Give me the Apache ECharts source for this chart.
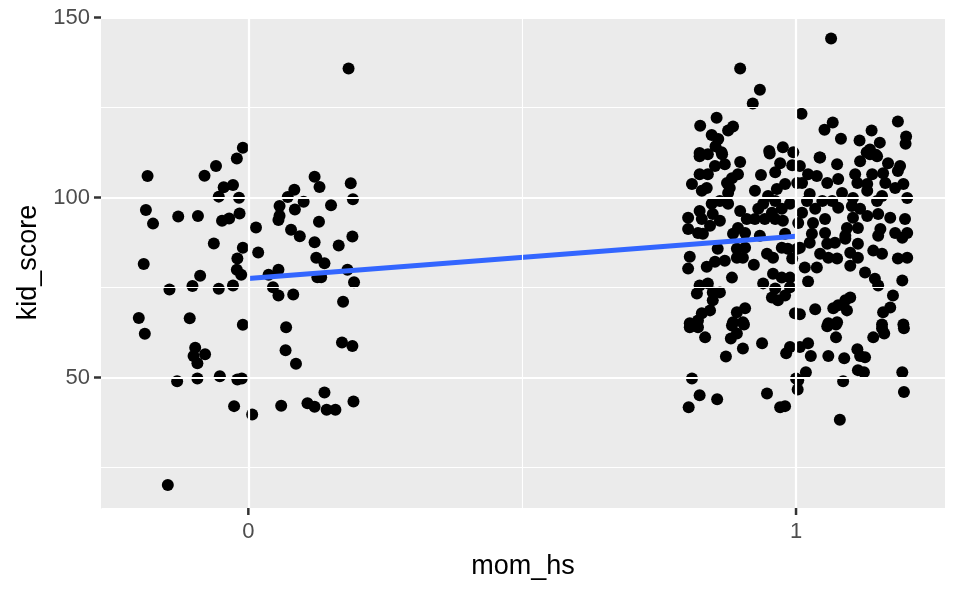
<!DOCTYPE html>
<html lang="en">
<head>
    <meta charset="UTF-8">
    <title>kid_score vs mom_hs</title>
    <script src="https://cdn.jsdelivr.net/npm/echarts@6/dist/echarts.min.js"></script>
    <style>
        html, body { margin: 0; padding: 0; background: #fff; }
        #chart { width: 960px; height: 593px; }
    </style>
</head>
<body>
    <div id="chart"></div>
    <script>
        // jittered points, mom_hs = 0  [jittered mom_hs, kid_score]
        var hs0 = [
            [0.183, 135.9], [-0.010, 113.9], [-0.021, 110.9], [-0.059, 108.8], [-0.080, 106.1],
            [-0.184, 106.0], [-0.045, 102.9], [-0.028, 103.5], [-0.054, 100.3], [-0.017, 100.0],
            [-0.187, 96.6], [-0.174, 92.8], [-0.128, 94.8], [-0.092, 94.9], [-0.048, 93.6],
            [-0.035, 94.2], [-0.016, 95.6], [-0.063, 87.3], [-0.010, 86.1], [-0.020, 83.1],
            [-0.191, 81.6], [-0.088, 78.3], [-0.021, 80.0], [-0.013, 78.6], [0.014, 91.7],
            [0.018, 84.8], [0.121, 105.8], [0.130, 103.0], [0.084, 102.2], [0.072, 100.2],
            [0.101, 98.9], [0.057, 97.7], [0.085, 96.7], [0.057, 95.0], [0.055, 93.8],
            [0.078, 91.1], [0.094, 89.3], [0.129, 93.3], [0.151, 97.9], [0.187, 104.0],
            [0.191, 99.6], [0.190, 89.2], [0.165, 86.7], [0.121, 87.6], [0.124, 83.3],
            [0.139, 81.8], [0.181, 80.0], [0.055, 80.0], [0.037, 78.6], [0.133, 77.9],
            [0.126, 77.9], [0.193, 76.5], [-0.144, 74.5], [-0.102, 75.5], [-0.054, 74.7],
            [-0.028, 75.6], [0.045, 75.1], [0.055, 72.8], [0.082, 73.1], [0.173, 71.1],
            [-0.200, 66.6], [-0.189, 62.2], [-0.107, 66.5], [-0.010, 64.7], [0.069, 64.0],
            [-0.097, 58.3], [-0.100, 56.0], [-0.079, 56.5], [-0.093, 54.0], [0.068, 57.6],
            [0.087, 53.9], [0.171, 59.8], [0.190, 58.8], [-0.130, 49.0], [-0.093, 49.8],
            [-0.052, 50.4], [-0.020, 49.5], [-0.012, 49.8], [0.139, 45.9], [0.192, 43.4],
            [-0.026, 42.1], [0.007, 39.8], [0.060, 42.2], [0.108, 42.9], [0.121, 41.9],
            [0.143, 41.1], [0.159, 41.1], [-0.147, 20.2]
        ];

        // jittered points, mom_hs = 1
        var hs1 = [
            [0.898, 135.9], [0.934, 130.0], [0.921, 126.2], [0.855, 122.2], [0.825, 120.0],
            [0.885, 119.8], [0.876, 118.7], [0.846, 117.4], [0.858, 116.3], [0.853, 114.3],
            [0.864, 112.6], [0.824, 112.4], [0.951, 113.0], [0.976, 114.0], [0.995, 112.6],
            [1.064, 144.2], [1.010, 123.3], [1.067, 120.9], [1.052, 118.9], [1.082, 116.4],
            [1.138, 118.7], [1.186, 121.2], [1.201, 117.0], [1.200, 115.0], [1.116, 115.9],
            [1.153, 115.3], [1.135, 113.4], [1.129, 112.6], [1.146, 111.9], [1.043, 111.2],
            [0.824, 111.5], [0.839, 112.1], [0.865, 112.1], [0.898, 109.9], [0.870, 109.3],
            [0.852, 108.8], [0.824, 106.5], [0.839, 106.5], [0.894, 106.5], [0.883, 105.4],
            [0.874, 104.1], [0.810, 103.8], [0.828, 101.9], [0.837, 102.7], [0.879, 102.7],
            [0.876, 101.3], [0.925, 101.9], [0.936, 106.3], [0.962, 107.1], [0.971, 109.6],
            [0.952, 112.3], [0.993, 109.0], [1.002, 104.1], [0.980, 103.8], [0.965, 102.4],
            [0.949, 100.5], [0.940, 98.3], [0.962, 99.1], [0.956, 95.8], [0.974, 96.9],
            [0.989, 98.3], [0.931, 96.9], [0.925, 94.1], [0.943, 94.1], [0.962, 94.1],
            [0.976, 93.6], [0.898, 96.3], [0.910, 94.1], [0.894, 91.6], [0.876, 98.3],
            [0.861, 99.1], [0.846, 98.3], [0.824, 96.3], [0.803, 94.4], [0.828, 94.1],
            [0.848, 95.5], [0.861, 93.6], [0.843, 92.2], [0.803, 91.3], [0.821, 90.2],
            [0.830, 90.0], [0.885, 90.0], [0.907, 90.2], [0.980, 90.0], [0.934, 89.4],
            [1.044, 111.2], [1.075, 109.3], [1.117, 110.1], [1.135, 112.1], [1.148, 111.5],
            [1.168, 109.6], [1.190, 108.8], [1.186, 107.4], [1.007, 108.8], [1.022, 106.5],
            [1.038, 106.0], [1.011, 104.1], [1.057, 104.1], [1.077, 105.2], [1.108, 106.5],
            [1.112, 104.1], [1.130, 103.8], [1.139, 106.5], [1.159, 106.8], [1.163, 104.1],
            [1.181, 102.7], [1.196, 103.8], [1.203, 99.9], [1.157, 100.5], [1.148, 99.1],
            [1.130, 101.9], [1.104, 99.9], [1.084, 101.3], [1.066, 99.1], [1.048, 99.1],
            [1.025, 101.0], [1.020, 99.1], [1.035, 96.9], [1.011, 95.8], [1.004, 93.0],
            [1.031, 93.0], [1.053, 94.1], [1.077, 97.2], [1.102, 97.7], [1.117, 96.9],
            [1.104, 94.4], [1.130, 94.9], [1.150, 95.5], [1.172, 94.4], [1.199, 94.1],
            [1.113, 91.6], [1.093, 91.6], [1.053, 90.2], [1.029, 90.0], [1.154, 91.3],
            [1.181, 90.2], [1.203, 90.2], [1.090, 89.4],
            [0.857, 85.8], [0.892, 85.8], [0.907, 86.1], [0.806, 83.6], [0.852, 82.2],
            [0.837, 80.8], [0.870, 82.5], [0.892, 83.3], [0.903, 83.3], [0.803, 80.3],
            [0.923, 81.4], [0.947, 84.4], [0.958, 83.3], [0.974, 86.1], [0.985, 85.8],
            [1.002, 85.8], [0.993, 83.1], [0.883, 77.8], [0.839, 76.2], [0.824, 75.6],
            [0.940, 76.2], [0.958, 78.9], [0.974, 77.8], [0.989, 77.8], [0.989, 75.1],
            [0.962, 74.8], [0.956, 72.3], [0.967, 71.5], [0.980, 72.8], [0.819, 73.4],
            [0.848, 73.7], [0.861, 73.7], [0.848, 71.5], [0.843, 68.7], [0.828, 67.9],
            [0.892, 68.2], [0.907, 69.3], [0.885, 65.4], [0.903, 65.4], [0.821, 65.9],
            [0.806, 65.1], [0.998, 67.9],
            [1.007, 86.1], [1.025, 87.5], [1.057, 87.2], [1.071, 87.5], [1.090, 88.6],
            [1.113, 87.2], [1.150, 89.4], [1.194, 88.9], [1.044, 84.4], [1.059, 83.3],
            [1.075, 83.1], [1.099, 84.7], [1.113, 83.3], [1.099, 81.1], [1.141, 85.3],
            [1.157, 84.4], [1.186, 83.1], [1.203, 83.3], [1.016, 80.6], [1.038, 80.6],
            [1.022, 76.7], [1.126, 79.2], [1.144, 77.5], [1.150, 75.6], [1.194, 77.0],
            [1.099, 72.3], [1.090, 71.5], [1.177, 72.8], [1.172, 69.5], [1.159, 68.2],
            [1.035, 69.0], [1.068, 69.3], [1.077, 70.1], [1.093, 68.7], [1.007, 67.6],
            [1.059, 65.1], [1.075, 65.4], [1.157, 64.8], [1.196, 64.8],
            [0.806, 64.0], [0.821, 64.0], [0.834, 61.2], [0.883, 64.5], [0.905, 64.8],
            [0.892, 62.3], [0.881, 60.9], [0.903, 58.1], [0.872, 55.9], [0.938, 59.6],
            [0.989, 58.5], [0.982, 56.8], [0.810, 49.8], [0.824, 45.1], [0.856, 44.0],
            [0.804, 41.8], [0.947, 45.6], [0.971, 41.8], [0.980, 42.1], [1.000, 49.8],
            [1.003, 46.7],
            [1.007, 58.5], [1.022, 59.6], [1.057, 64.3], [1.073, 64.8], [1.073, 61.2],
            [1.027, 56.0], [1.059, 56.0], [1.088, 55.4], [1.112, 57.9], [1.117, 56.0],
            [1.126, 55.7], [1.113, 52.1], [1.124, 51.5], [1.018, 51.5], [1.004, 49.3],
            [1.086, 49.0], [1.141, 61.2], [1.157, 63.7], [1.161, 62.3], [1.197, 63.7],
            [1.194, 51.5], [1.197, 46.0], [1.080, 38.3]
        ];

        // lm fit kid_score ~ mom_hs, drawn from 0 to 1
        var fitLine = [[0, 77.55], [1, 89.32]];

        var xTicks = [0, 1];
        var xMinor = [0.5];
        var yTicks = [50, 100, 150];
        var yMinor = [25, 75, 125];

        var xMin = -0.269, xMax = 1.272;
        var yMin = 13.8, yMax = 150.2;

        var myChart = echarts.init(document.getElementById('chart'), null, { renderer: 'canvas' });

        var gridLines = [];
        yMinor.forEach(function (v) {
            gridLines.push({ yAxis: v, lineStyle: { color: '#fff', width: 1.1, type: 'solid' } });
        });
        xMinor.forEach(function (v) {
            gridLines.push({ xAxis: v, lineStyle: { color: '#fff', width: 1.1, type: 'solid' } });
        });
        yTicks.forEach(function (v) {
            gridLines.push({ yAxis: v, lineStyle: { color: '#fff', width: 2.2, type: 'solid' } });
        });
        xTicks.forEach(function (v) {
            gridLines.push({ xAxis: v, lineStyle: { color: '#fff', width: 2.2, type: 'solid' } });
        });

        var font = 'Liberation Sans, Arial, Helvetica, sans-serif';

        var option = {
            animation: false,
            grid: {
                left: 101,
                right: 15,
                top: 17,
                bottom: 85,
                show: true,
                backgroundColor: '#EBEBEB',
                borderWidth: 0
            },
            xAxis: {
                type: 'value',
                min: xMin,
                max: xMax,
                name: 'mom_hs',
                nameLocation: 'middle',
                nameGap: 45,
                nameTextStyle: { color: '#000', fontSize: 27, fontFamily: font },
                axisLine: { show: false },
                axisTick: { show: false },
                axisLabel: { customValues: xTicks, color: '#4D4D4D', fontSize: 22, fontFamily: font, margin: 13 },
                splitLine: { show: false }
            },
            yAxis: {
                type: 'value',
                min: yMin,
                max: yMax,
                name: 'kid_score',
                nameLocation: 'middle',
                nameGap: 57,
                nameTextStyle: { color: '#000', fontSize: 27, fontFamily: font },
                axisLine: { show: true, onZero: false, lineStyle: { color: '#EBEBEB', width: 1 } },
                axisTick: { show: true, length: 7, customValues: yTicks, lineStyle: { color: '#333', width: 2.5 } },
                axisLabel: { customValues: yTicks, color: '#4D4D4D', fontSize: 22, fontFamily: font, margin: 11 },
                splitLine: { show: false }
            },
            series: [
                {
                    name: 'grid',
                    type: 'scatter',
                    data: [],
                    z: 1,
                    silent: true,
                    markLine: {
                        silent: true,
                        symbol: ['none', 'none'],
                        label: { show: false },
                        animation: false,
                        data: gridLines
                    }
                },
                {
                    name: 'mom_hs = 0',
                    type: 'scatter',
                    data: hs0,
                    symbolSize: 12,
                    itemStyle: { color: '#000', opacity: 1 },
                    z: 2
                },
                {
                    name: 'mom_hs = 1',
                    type: 'scatter',
                    data: hs1,
                    symbolSize: 12,
                    itemStyle: { color: '#000', opacity: 1 },
                    z: 2
                },
                {
                    name: 'fit',
                    type: 'line',
                    data: fitLine,
                    symbol: 'none',
                    lineStyle: { color: '#3366FF', width: 5 },
                    z: 3
                },
                {
                    // x-axis tick marks, hung below the panel edge
                    name: 'xTicks',
                    type: 'custom',
                    silent: true,
                    clip: false,
                    z: 5,
                    data: xTicks.map(function (v) { return [v, yMin]; }),
                    renderItem: function (params, api) {
                        var p = api.coord([api.value(0), api.value(1)]);
                        return {
                            type: 'line',
                            shape: { x1: p[0], y1: p[1], x2: p[0], y2: p[1] + 7 },
                            style: { stroke: '#333', lineWidth: 2.5 }
                        };
                    }
                }
            ]
        };
        myChart.setOption(option);
    </script>
</body>
</html>
